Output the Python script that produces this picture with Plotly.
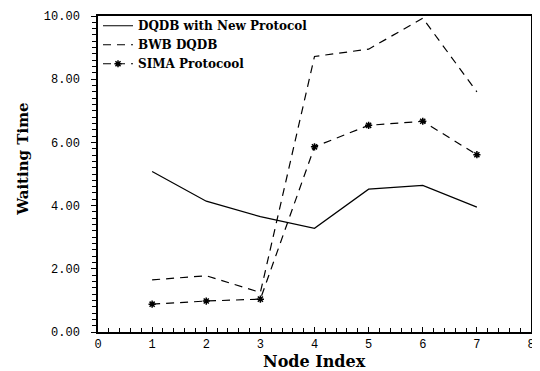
import plotly.graph_objects as go

node_index = [1, 2, 3, 4, 5, 6, 7]
dqdb_new = [5.08, 4.14, 3.65, 3.28, 4.52, 4.64, 3.95]
bwb_dqdb = [1.65, 1.78, 1.25, 8.72, 8.95, 9.93, 7.6]
sima = [0.88, 0.98, 1.04, 5.86, 6.54, 6.67, 5.61]

names = ["DQDB with New Protocol", "BWB DQDB", "SIMA Protocool"]
x_title = "Node Index"
y_title = "Waiting Time"
x_ticks = [0, 1, 2, 3, 4, 5, 6, 7, 8]
y_ticks = [0, 2, 4, 6, 8, 10]

fig = go.Figure()
fig.add_trace(go.Scatter(x=node_index, y=dqdb_new, name=names[0], mode="lines",
                         line=dict(color="black", width=1.2)))
fig.add_trace(go.Scatter(x=node_index, y=bwb_dqdb, name=names[1], mode="lines",
                         line=dict(color="black", width=1.2, dash="8px,6px")))
fig.add_trace(go.Scatter(x=node_index, y=sima, name=names[2], mode="lines+markers",
                         line=dict(color="black", width=1.2, dash="8px,6px"),
                         marker=dict(symbol="asterisk", size=6, color="black",
                                     line=dict(color="black", width=1.5))))

tickfont = dict(family="Liberation Mono", size=12, color="black")
fig.update_layout(
    width=532, height=363,
    margin=dict(l=90, r=9, t=3, b=39),
    paper_bgcolor="white", plot_bgcolor="white",
    showlegend=True,
    legend=dict(x=0.0, y=1.015, xanchor="left", yanchor="top",
                bgcolor="rgba(0,0,0,0)", borderwidth=0,
                font=dict(family="DejaVu Serif", size=12, color="black", weight="bold"),
                tracegroupgap=0),
    xaxis=dict(range=[0, 8], tickvals=x_ticks, ticktext=[str(v) for v in x_ticks],
               automargin=False, ticklabeloverflow="allow",
               showgrid=False, zeroline=False, showline=True, linecolor="black",
               linewidth=1.5, mirror=True, ticks="inside", ticklen=5, tickcolor="black",
               tickfont=tickfont,
               minor=dict(dtick=0.2, ticks="inside", ticklen=4, tickcolor="black")),
    yaxis=dict(range=[0, 10], tickvals=y_ticks, ticktext=[f"{v:.2f}" for v in y_ticks],
               automargin=False,
               showgrid=False, zeroline=False, showline=True, linecolor="black",
               linewidth=1.5, mirror=True, ticks="outside", ticklen=5, tickcolor="black",
               tickfont=tickfont, ticklabelstandoff=9,
               minor=dict(dtick=0.2, ticks="outside", ticklen=4, tickcolor="black")),
    annotations=[
        dict(text=f"<b>{x_title}</b>", xref="paper", yref="paper", x=0.5, y=-0.092,
             xanchor="center", yanchor="middle", showarrow=False, borderpad=0,
             font=dict(family="DejaVu Serif", size=16, color="black")),
        dict(text=f"<b>{y_title}</b>", xref="paper", yref="paper", x=-0.173, y=0.545,
             xanchor="center", yanchor="middle", showarrow=False, textangle=-90,
             font=dict(family="DejaVu Serif", size=15, color="black")),
    ],
)

fig.write_html("out.html")
